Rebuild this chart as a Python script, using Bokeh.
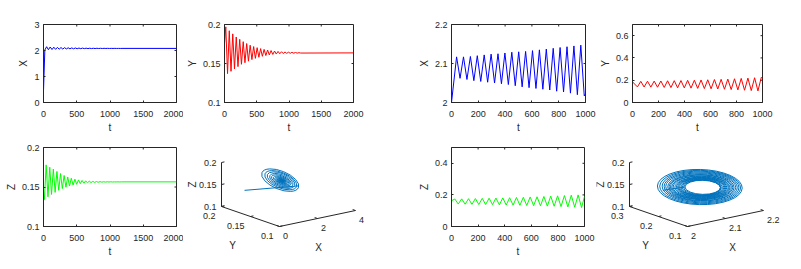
import numpy as np
from bokeh.plotting import figure
from bokeh.layouts import row, column
from bokeh.models import Range1d, FixedTicker, CustomJSTickFormatter, Label
from bokeh.embed import file_html
from bokeh.resources import INLINE

# ======================= DATA =======================
# ---- left system: t = 0..2000, damped oscillation, period ~54 ----
L_T_END = 2000
L_PERIOD = 54.0
LX_START, LX_END = 0.45, 2.08
LX_PEAK_T0, LX_TROUGH_T0 = 47.0, 20.0
LX_PEAKS = [2.145, 2.135, 2.127, 2.120, 2.114, 2.109, 2.104, 2.100, 2.097, 2.094, 2.092,
            2.090, 2.088, 2.087, 2.086, 2.085, 2.084, 2.083, 2.082, 2.082, 2.081, 2.081]
LX_TROUGHS = [2.020, 2.030, 2.037, 2.044, 2.050, 2.055, 2.060, 2.063, 2.066, 2.068, 2.070,
              2.072, 2.073, 2.074, 2.075, 2.076, 2.077, 2.078, 2.078, 2.079, 2.079, 2.079]

LY_START, LY_END = 0.175, 0.1636
LY_PEAK_T0, LY_TROUGH_T0 = 20.0, 47.0
LY_PEAKS = [0.197, 0.192, 0.188, 0.184, 0.181, 0.178, 0.1756, 0.1734, 0.1717, 0.1703, 0.1691,
            0.1681, 0.1673, 0.1666, 0.1660, 0.1655, 0.1651, 0.1648, 0.1645, 0.1643, 0.1641, 0.1639]
LY_TROUGHS = [0.137, 0.140, 0.143, 0.146, 0.149, 0.151, 0.153, 0.155, 0.1566, 0.158, 0.1592,
              0.1602, 0.1610, 0.1616, 0.1621, 0.1625, 0.1628, 0.1630, 0.1631, 0.1632, 0.1633, 0.1634]

LZ_START, LZ_END = 0.144, 0.1565
LZ_PEAK_T0, LZ_TROUGH_T0 = 40.0, 13.0
LZ_PEAKS = [0.178, 0.175, 0.1727, 0.1697, 0.1670, 0.1646, 0.1627, 0.1611, 0.1599, 0.1590, 0.1583,
            0.1578, 0.1574, 0.1571, 0.1569, 0.1568, 0.1567, 0.1566, 0.1566, 0.1565, 0.1565, 0.1565]
LZ_TROUGHS = [0.134, 0.1376, 0.1406, 0.1432, 0.1458, 0.1480, 0.1497, 0.1512, 0.1524, 0.1534, 0.1542,
              0.1548, 0.1553, 0.1556, 0.1558, 0.1560, 0.1561, 0.1562, 0.1563, 0.1563, 0.1564, 0.1564]

# ---- right system: t = 0..1000, growing oscillation, period ~51.5 ----
R_T_END = 1000
R_PERIOD = 51.5
RX_START, RX_END = 2.0, 2.022
RX_PEAK_T0, RX_TROUGH_T0 = 38.0, 63.75
RX_PEAKS = [2.117, 2.117, 2.118, 2.120, 2.122, 2.124, 2.125, 2.127, 2.129, 2.130,
            2.131, 2.133, 2.135, 2.137, 2.139, 2.141, 2.143, 2.145, 2.147]
RX_TROUGHS = [2.062, 2.059, 2.056, 2.054, 2.052, 2.050, 2.048, 2.046, 2.043, 2.040,
              2.038, 2.036, 2.034, 2.032, 2.029, 2.027, 2.024, 2.020, 2.017]

RY_START, RY_END = 0.185, 0.215
RY_PEAK_T0, RY_TROUGH_T0 = 63.75, 38.0
RY_PEAKS = [0.190, 0.191, 0.192, 0.193, 0.195, 0.196, 0.197, 0.199, 0.200, 0.202,
            0.204, 0.206, 0.208, 0.210, 0.213, 0.216, 0.219, 0.222, 0.226]
RY_TROUGHS = [0.140, 0.139, 0.138, 0.137, 0.135, 0.134, 0.132, 0.131, 0.129, 0.127,
              0.125, 0.123, 0.121, 0.119, 0.116, 0.113, 0.110, 0.107, 0.104]

RZ_START, RZ_END = 0.163, 0.19
RZ_PEAK_T0, RZ_TROUGH_T0 = 25.1, 50.9
RZ_PEAKS = [0.174, 0.175, 0.176, 0.177, 0.178, 0.179, 0.180, 0.181, 0.182, 0.184,
            0.185, 0.187, 0.188, 0.190, 0.192, 0.194, 0.196, 0.198, 0.200]
RZ_TROUGHS = [0.142, 0.141, 0.140, 0.139, 0.139, 0.138, 0.137, 0.136, 0.135, 0.134,
              0.133, 0.132, 0.131, 0.129, 0.128, 0.126, 0.124, 0.122, 0.120]

# ---- axis limits / ticks ----
L_T_TICKS = [0, 500, 1000, 1500, 2000]
R_T_TICKS = [0, 200, 400, 600, 800, 1000]
LX_LIM, LX_TICKS = (0, 3), [0, 1, 2, 3]
LY_LIM, LY_TICKS = (0.1, 0.2), [0.1, 0.15, 0.2]
LZ_LIM, LZ_TICKS = (0.1, 0.2), [0.1, 0.15, 0.2]
RX_LIM, RX_TICKS = (2, 2.2), [2, 2.1, 2.2]
RY_LIM, RY_TICKS = (0, 0.7), [0, 0.2, 0.4, 0.6]
RZ_LIM, RZ_TICKS = (0, 0.5), [0, 0.2, 0.4]

L3_LIMS = {"X": (0, 4), "Y": (0.1, 0.2), "Z": (0.1, 0.2)}
L3_TICKS = {"X": [0, 2, 4], "Y": [0.1, 0.15, 0.2], "Z": [0.1, 0.15, 0.2]}
R3_LIMS = {"X": (2, 2.2), "Y": (0.1, 0.3), "Z": (0.1, 0.2)}
R3_TICKS = {"X": [2, 2.1, 2.2], "Y": [0.1, 0.2, 0.3], "Z": [0.1, 0.15, 0.2]}

# ======================= STYLE / LAYOUT =======================
FONT = "Liberation Sans"
AX = "#262626"
TICK_FS = "9px"
LAB_FS = "10px"
C3D = "#0072bd"
TICK_LEN = 2


def build_series(start, end, t_end, peaks, tp0, troughs, tt0, period):
    tp = tp0 + period * np.arange(len(peaks))
    tt = tt0 + period * np.arange(len(troughs))
    t = np.concatenate([[0.0], tp, tt, [t_end]])
    v = np.concatenate([[start], peaks, troughs, [end]])
    o = np.argsort(t, kind="stable")
    return t[o], v[o]


def style_axis(ax, ticks, label, label_standoff):
    ax.ticker = FixedTicker(ticks=ticks)
    ax.formatter = CustomJSTickFormatter(code="return String(Math.round(tick*10000)/10000);")
    ax.major_tick_in = TICK_LEN
    ax.major_tick_out = 0
    ax.minor_tick_line_color = None
    ax.axis_line_color = AX
    ax.major_tick_line_color = AX
    ax.major_label_text_font = FONT
    ax.major_label_text_font_size = TICK_FS
    ax.major_label_text_color = AX
    ax.major_label_standoff = label_standoff
    ax.axis_label = label
    ax.axis_label_text_font = FONT
    ax.axis_label_text_font_size = LAB_FS
    ax.axis_label_text_font_style = "normal"
    ax.axis_label_text_color = AX
    ax.axis_label_standoff = 2


def ts_fig(w, h, borders, t, v, color, xlim, xticks, ylim, yticks, ylabel):
    l, r, tp, b = borders
    fw, fh = w - l - r, h - tp - b
    p = figure(width=w, height=h, x_range=Range1d(*xlim), y_range=Range1d(*ylim),
               output_backend="svg", toolbar_location=None,
               min_border_left=l, min_border_right=r, min_border_top=tp, min_border_bottom=b)
    p.line(t, v, line_color=color, line_width=1)
    p.xgrid.visible = False
    p.ygrid.visible = False
    p.outline_line_color = AX
    p.outline_line_width = 1
    style_axis(p.below[0], xticks, "t", 8)
    style_axis(p.left[0], yticks, ylabel, 4)
    # inward ticks on the top and right edges (MATLAB box style)
    dy = TICK_LEN * (ylim[1] - ylim[0]) / fh
    dx = TICK_LEN * (xlim[1] - xlim[0]) / fw
    xt = [x for x in xticks if xlim[0] < x < xlim[1]]
    yt = [y for y in yticks if ylim[0] < y < ylim[1]]
    p.segment(x0=xt, y0=[ylim[1]] * len(xt), x1=xt, y1=[ylim[1] - dy] * len(xt),
              line_color=AX, line_width=1)
    p.segment(x0=[xlim[1]] * len(yt), y0=yt, x1=[xlim[1] - dx] * len(yt), y1=yt,
              line_color=AX, line_width=1)
    return p


def fmt(x):
    return "%g" % x


def add_labels(p, xs, ys, texts, size, align, angle=0.0):
    for x, y, t in zip(xs, ys, texts):
        p.add_layout(Label(x=float(x), y=float(y), text=t, angle=angle,
                           text_font=FONT, text_font_size=size, text_color=AX,
                           text_align=align, text_baseline="middle"))


def fig3d(w, h, cell, lims, ticks, view, cyc, start, join_sign, ylab_off, xlab_off):
    cx0, cy0 = cell
    p = figure(width=w, height=h, x_range=Range1d(cx0, cx0 + w), y_range=Range1d(-(cy0 + h), -cy0),
               output_backend="svg", toolbar_location=None, x_axis_type=None, y_axis_type=None,
               min_border_left=0, min_border_right=0, min_border_top=0, min_border_bottom=0)
    p.outline_line_color = None
    (x0, x1), (y0, y1), (z0, z1) = lims["X"], lims["Y"], lims["Z"]
    ox, oy = view["origin"]
    ux = np.array(view["ex"], float) / (x1 - x0)
    uy = np.array(view["ey"], float) / (y1 - y0)
    uz = np.array(view["ez"], float) / (z1 - z0)

    def proj(X, Y, Z):
        X = np.asarray(X, float); Y = np.asarray(Y, float); Z = np.asarray(Z, float)
        xi = ox + (X - x0) * ux[0] + (Y - y0) * uy[0] + (Z - z0) * uz[0]
        yi = oy + (X - x0) * ux[1] + (Y - y0) * uy[1] + (Z - z0) * uz[1]
        return xi, -yi

    flip = np.array([1.0, -1.0])
    uxd, uyd, uzd = ux * flip, uy * flip, uz * flip

    # box axes
    zx, zy = proj([x0, x0], [y1, y1], [z0, z1])
    yx, yy = proj([x0, x0], [y1, y0], [z0, z0])
    xx, xy = proj([x0, x1], [y0, y0], [z0, z0])
    p.multi_line(xs=[list(zx), list(yx), list(xx)], ys=[list(zy), list(yy), list(xy)],
                 line_color=AX, line_width=1)

    # ticks
    dxn = uxd / np.hypot(*uxd) * 3
    dyn = uyd / np.hypot(*uyd) * 3
    sx0, sy0, sx1, sy1 = [], [], [], []
    zt = np.array(ticks["Z"], float)
    a, b = proj(np.full_like(zt, x0), np.full_like(zt, y1), zt)
    sx0 += list(a); sy0 += list(b); sx1 += list(a + dxn[0]); sy1 += list(b + dxn[1])
    ztx, zty = a, b
    yt = np.array(ticks["Y"], float)
    a, b = proj(np.full_like(yt, x0), yt, np.full_like(yt, z0))
    sx0 += list(a); sy0 += list(b); sx1 += list(a + dxn[0]); sy1 += list(b + dxn[1])
    ytx, yty = a, b
    xt = np.array(ticks["X"], float)
    a, b = proj(xt, np.full_like(xt, y0), np.full_like(xt, z0))
    sx0 += list(a); sy0 += list(b); sx1 += list(a + dyn[0]); sy1 += list(b + dyn[1])
    xtx, xty = a, b
    p.segment(x0=sx0, y0=sy0, x1=sx1, y1=sy1, line_color=AX, line_width=1)

    add_labels(p, ztx - 5, zty, [fmt(v) for v in zt], TICK_FS, "right")
    add_labels(p, ytx - 6, yty - 9, [fmt(v) for v in yt], TICK_FS, "right")
    add_labels(p, xtx + 3.5, xty - 9.5, [fmt(v) for v in xt], TICK_FS, "left")
    add_labels(p, [zx.mean() - 29.5], [zy.mean()], ["Z"], LAB_FS, "center", angle=np.pi / 2)
    add_labels(p, [yx.mean() + ylab_off[0]], [yy.mean() - ylab_off[1]], ["Y"], LAB_FS, "center")
    add_labels(p, [xx.mean() + xlab_off[0]], [xy.mean() - xlab_off[1]], ["X"], LAB_FS, "center")

    # trajectory: one closed loop per oscillation cycle
    Xp, Xt, Yp, Yt, Zp, Zt = [np.asarray(c, float) for c in cyc]
    Cx, Cy, Cz = (Xp + Xt) / 2, (Yp + Yt) / 2, (Zp + Zt) / 2
    Ax, Ay, Az = (Xp - Xt) / 2, (Yp - Yt) / 2, (Zp - Zt) / 2
    ex_, ey_ = proj(Cx, Cy, Cz)
    W, H, ANG = [], [], []
    for k in range(len(Cx)):
        u = Ax[k] * uxd - Ay[k] * uyd
        v = Az[k] * uzd
        M = np.column_stack([u, v])
        U, S, _ = np.linalg.svd(M)
        W.append(2 * S[0]); H.append(2 * S[1]); ANG.append(np.arctan2(U[1, 0], U[0, 0]))
    p.ellipse(x=list(ex_), y=list(ey_), width=W, height=H, angle=ANG,
              fill_color=None, line_color=C3D, line_width=1)
    # initial transient
    if join_sign > 0:
        endp = (Xp[0], Yt[0], Cz[0])
    else:
        endp = (Xt[0], Yp[0], Cz[0])
    lx, ly = proj([start[0], endp[0]], [start[1], endp[1]], [start[2], endp[2]])
    p.line(list(lx), list(ly), line_color=C3D, line_width=1)
    return p


# ----- time series -----
tLX, vLX = build_series(LX_START, LX_END, L_T_END, LX_PEAKS, LX_PEAK_T0, LX_TROUGHS, LX_TROUGH_T0, L_PERIOD)
tLY, vLY = build_series(LY_START, LY_END, L_T_END, LY_PEAKS, LY_PEAK_T0, LY_TROUGHS, LY_TROUGH_T0, L_PERIOD)
tLZ, vLZ = build_series(LZ_START, LZ_END, L_T_END, LZ_PEAKS, LZ_PEAK_T0, LZ_TROUGHS, LZ_TROUGH_T0, L_PERIOD)
tRX, vRX = build_series(RX_START, RX_END, R_T_END, RX_PEAKS, RX_PEAK_T0, RX_TROUGHS, RX_TROUGH_T0, R_PERIOD)
tRY, vRY = build_series(RY_START, RY_END, R_T_END, RY_PEAKS, RY_PEAK_T0, RY_TROUGHS, RY_TROUGH_T0, R_PERIOD)
tRZ, vRZ = build_series(RZ_START, RZ_END, R_T_END, RZ_PEAKS, RZ_PEAK_T0, RZ_TROUGHS, RZ_TROUGH_T0, R_PERIOD)

# cell widths / heights (layout starts at the page's top-left corner)
W1, W2, W3, W4 = 183, 217, 196, 205
H_TOP, H_BOT = 136, 133

f1 = ts_fig(W1, H_TOP, (43, 7, 24, 34), tLX, vLX, "#0000ff", (0, L_T_END), L_T_TICKS, LX_LIM, LX_TICKS, "X")
f2 = ts_fig(W2, H_TOP, (38, 47, 24, 34), tLY, vLY, "#ff0000", (0, L_T_END), L_T_TICKS, LY_LIM, LY_TICKS, "Y")
f5 = ts_fig(W3, H_TOP, (51, 11, 24, 34), tRX, vRX, "#0000ff", (0, R_T_END), R_T_TICKS, RX_LIM, RX_TICKS, "X")
f6 = ts_fig(W4, H_TOP, (33, 39, 24, 34), tRY, vRY, "#ff0000", (0, R_T_END), R_T_TICKS, RY_LIM, RY_TICKS, "Y")
f3 = ts_fig(W1, H_BOT, (43, 7, 11, 43), tLZ, vLZ, "#00ff00", (0, L_T_END), L_T_TICKS, LZ_LIM, LZ_TICKS, "Z")
f7 = ts_fig(W3, H_BOT, (51, 12, 11, 43), tRZ, vRZ, "#00ff00", (0, R_T_END), R_T_TICKS, RZ_LIM, RZ_TICKS, "Z")

VIEW_L = {"origin": (279, 226), "ex": (76, -16), "ey": (-58, -20), "ez": (0, -44)}
VIEW_R = {"origin": (687, 226), "ex": (76, -16), "ey": (-58, -20), "ez": (0, -44)}

f4 = fig3d(W2, H_BOT, (W1, H_TOP), L3_LIMS, L3_TICKS, VIEW_L,
           (LX_PEAKS, LX_TROUGHS, LY_PEAKS, LY_TROUGHS, LZ_PEAKS, LZ_TROUGHS),
           (LX_START, LY_START, LZ_START), +1, (-18, 29), (1, 29))
f8 = fig3d(W4, H_BOT, (W1 + W2 + W3, H_TOP), R3_LIMS, R3_TICKS, VIEW_R,
           (RX_PEAKS, RX_TROUGHS, RY_PEAKS, RY_TROUGHS, RZ_PEAKS, RZ_TROUGHS),
           (RX_START, RY_START, RZ_START), -1, (-13, 29), (7, 29))

# each bottom-row plot sits in its own column so the row does not align their frames
bottom = row(column(f3, spacing=0), column(f4, spacing=0), column(f7, spacing=0),
             column(f8, spacing=0), spacing=0)
layout = column(row(f1, f2, f5, f6, spacing=0), bottom, spacing=0)

with open("out.html", "w") as fh:
    fh.write(file_html(layout, INLINE))
